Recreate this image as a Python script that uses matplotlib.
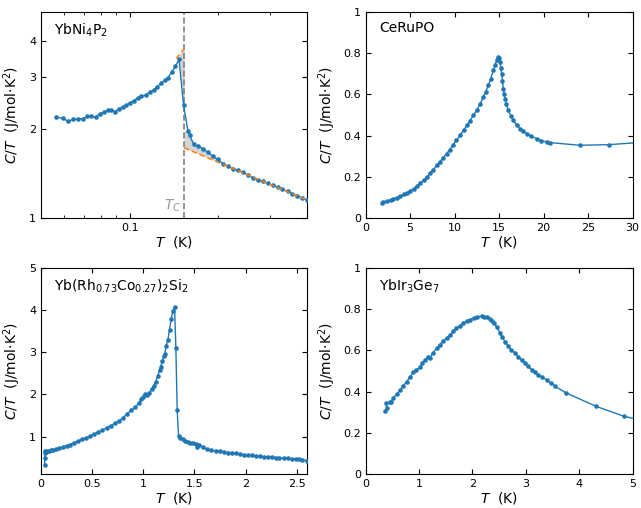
import numpy as np
import matplotlib
matplotlib.use("Agg")
import matplotlib.pyplot as plt
from matplotlib.ticker import FixedLocator, FormatStrFormatter, NullFormatter, NullLocator

# ---------------- data ----------------
# YbNi4P2 (log-log)
ybni_T = [0.0561, 0.0592, 0.0618, 0.0643, 0.0668, 0.0692, 0.0719, 0.0741, 0.0767, 0.0791,
          0.0816, 0.0844, 0.0867, 0.0889, 0.0920, 0.0950, 0.0974, 0.1005, 0.1034, 0.1067,
          0.1095, 0.1133, 0.1169, 0.1206, 0.1237, 0.1274, 0.1314, 0.1348, 0.1390, 0.1430,
          0.1470, 0.1524, 0.1576, 0.1596, 0.1649, 0.1703, 0.1772, 0.1840, 0.1917, 0.1990,
          0.2070, 0.2150, 0.2240, 0.2330, 0.2420, 0.2520, 0.2620, 0.2720, 0.2830, 0.2940,
          0.3060, 0.3180, 0.3300, 0.3440, 0.3570, 0.3710, 0.3860, 0.4000]
ybni_C = [2.20, 2.18, 2.13, 2.16, 2.17, 2.17, 2.21, 2.21, 2.20, 2.26,
          2.28, 2.33, 2.33, 2.29, 2.35, 2.38, 2.41, 2.46, 2.50, 2.56,
          2.59, 2.61, 2.67, 2.72, 2.78, 2.86, 2.93, 2.99, 3.13, 3.27,
          3.45, 2.41, 1.98, 1.91, 1.78, 1.75, 1.72, 1.67, 1.62, 1.58,
          1.53, 1.50, 1.47, 1.45, 1.43, 1.40, 1.37, 1.35, 1.33, 1.31,
          1.29, 1.27, 1.25, 1.23, 1.21, 1.19, 1.17, 1.15]
ybni_Tc = 0.153
fit_low_T = [0.1438, 0.153]
fit_low_C = [3.47, 3.75]
fit_high_T = [0.153, 0.40]
fit_high_C = [1.73, 1.15]

# CeRuPO
ce_T = [1.8, 2.0, 2.4, 2.8, 3.1, 3.5, 3.9, 4.25, 4.6, 5.0, 5.4, 5.75, 6.1, 6.5, 6.87, 7.2, 7.6,
        8.0, 8.35, 8.7, 9.1, 9.45, 9.8, 10.2, 10.6, 11.0, 11.36, 11.7, 12.1, 12.48, 12.85,
        13.22, 13.5, 13.79, 14.05, 14.35, 14.55, 14.72, 14.87, 14.98, 15.09, 15.18, 15.28,
        15.37, 15.47, 15.56, 15.65, 15.8, 16.03, 16.3, 16.59, 16.95, 17.34, 17.7, 18.08,
        18.6, 19.2, 19.75, 20.33, 20.7, 24.07, 27.36, 30.6]
ce_C = [0.074, 0.077, 0.082, 0.087, 0.093, 0.099, 0.105, 0.114, 0.122, 0.131, 0.143, 0.155,
        0.168, 0.183, 0.200, 0.216, 0.235, 0.256, 0.273, 0.292, 0.313, 0.332, 0.354, 0.377,
        0.401, 0.426, 0.450, 0.472, 0.498, 0.523, 0.554, 0.587, 0.614, 0.644, 0.677, 0.716,
        0.745, 0.765, 0.781, 0.775, 0.756, 0.730, 0.700, 0.665, 0.627, 0.600, 0.579, 0.553,
        0.523, 0.497, 0.474, 0.452, 0.434, 0.421, 0.410, 0.397, 0.385, 0.376, 0.369, 0.366,
        0.353, 0.356, 0.366]

# Yb(Rh0.73Co0.27)2Si2
yrc_T = [0.035, 0.038, 0.040, 0.042, 0.05, 0.06, 0.08, 0.10, 0.12, 0.15, 0.18, 0.21, 0.25,
         0.28, 0.32, 0.36, 0.40, 0.44, 0.48, 0.52, 0.56, 0.60, 0.64, 0.68, 0.72, 0.76, 0.80,
         0.84, 0.88, 0.92, 0.96, 0.98, 1.00, 1.02, 1.04, 1.06, 1.08, 1.10, 1.12, 1.14, 1.16,
         1.17, 1.185, 1.20, 1.21, 1.224, 1.24, 1.256, 1.273, 1.289, 1.305, 1.318, 1.331,
         1.344, 1.36, 1.386, 1.41, 1.435, 1.46, 1.483, 1.51, 1.525, 1.54, 1.58, 1.62, 1.66,
         1.71, 1.75, 1.79, 1.83, 1.87, 1.91, 1.94, 1.98, 2.02, 2.06, 2.10, 2.14, 2.18, 2.22,
         2.26, 2.30, 2.33, 2.37, 2.41, 2.45, 2.49, 2.52, 2.55, 2.60]
yrc_C = [0.33, 0.50, 0.62, 0.66, 0.64, 0.65, 0.66, 0.67, 0.68, 0.70, 0.72, 0.74, 0.78,
         0.81, 0.85, 0.89, 0.93, 0.97, 1.01, 1.06, 1.10, 1.15, 1.21, 1.26, 1.31, 1.37, 1.44,
         1.54, 1.62, 1.70, 1.80, 1.90, 1.95, 2.01, 1.99, 2.03, 2.13, 2.20, 2.29, 2.43, 2.58,
         2.66, 2.79, 2.90, 2.97, 3.16, 3.30, 3.54, 3.80, 3.98, 4.08, 3.10, 1.62,
         1.02, 0.97, 0.94, 0.90, 0.87, 0.85, 0.84, 0.82, 0.76, 0.80, 0.74, 0.70, 0.68,
         0.66, 0.65, 0.63, 0.62, 0.60, 0.60, 0.59, 0.56, 0.55, 0.55, 0.54, 0.53, 0.52, 0.52,
         0.51, 0.50, 0.49, 0.49, 0.48, 0.47, 0.46, 0.46, 0.45, 0.43]

# YbIr3Ge7
yig_T = [0.362, 0.393, 0.381, 0.456, 0.48, 0.518, 0.58, 0.643, 0.70, 0.768, 0.83, 0.893,
         0.95, 1.017, 1.06, 1.11, 1.173, 1.20, 1.26, 1.33, 1.39, 1.45, 1.52, 1.58, 1.64, 1.70,
         1.77, 1.83, 1.89, 1.95, 2.02, 2.08, 2.17, 2.22, 2.27, 2.32, 2.36, 2.41, 2.45, 2.52,
         2.56, 2.61, 2.67, 2.73, 2.80, 2.86, 2.92, 2.98, 3.04, 3.11, 3.17, 3.23, 3.31, 3.39,
         3.47, 3.55, 3.76, 4.31, 4.84, 5.38]
yig_C = [0.304, 0.320, 0.345, 0.348, 0.352, 0.369, 0.388, 0.406, 0.427, 0.449, 0.471, 0.493,
         0.505, 0.519, 0.538, 0.554, 0.570, 0.562, 0.588, 0.610, 0.628, 0.646, 0.661, 0.675,
         0.692, 0.707, 0.720, 0.731, 0.741, 0.750, 0.757, 0.763, 0.766, 0.764, 0.760, 0.753,
         0.744, 0.731, 0.715, 0.683, 0.663, 0.642, 0.622, 0.602, 0.586, 0.570, 0.554, 0.538,
         0.522, 0.506, 0.494, 0.482, 0.469, 0.457, 0.441, 0.425, 0.393, 0.329, 0.280, 0.249]

# ---------------- figure ----------------
plt.rcParams['font.family'] = ['DejaVu Sans']
blue = '#1f77b4'
orange = '#ff7f0e'
fig = plt.figure(figsize=(6.41, 5.08), dpi=100)

pos = {
    'tl': [0.0640, 0.5709, 0.4150, 0.4055],
    'tr': [0.5705, 0.5709, 0.4165, 0.4055],
    'bl': [0.0640, 0.0669, 0.4150, 0.4055],
    'br': [0.5705, 0.0669, 0.4165, 0.4055],
}
ylabel = '$C/T$  (J/mol\u00b7K$^2$)'
xlabel = '$T$  (K)'


def style(ax):
    ax.tick_params(which='both', direction='in', top=True, right=True, labelsize=8)
    ax.tick_params(which='major', length=3.5)
    ax.tick_params(which='minor', length=2.5)
    ax.set_xlabel(xlabel, fontsize=10, labelpad=1)
    ax.set_ylabel(ylabel, fontsize=10, labelpad=4)


def plot_data(ax, T, C):
    ax.plot(T, C, '-o', color=blue, lw=1.0, ms=3.3, mew=0, zorder=3)


# top-left: YbNi4P2
ax = fig.add_axes(pos['tl'])
ax.set_xscale('log')
ax.set_yscale('log')
T = np.array(ybni_T)
C = np.array(ybni_C)
# shaded entropy-balance regions
xl = np.linspace(T[np.argmax(C)], ybni_Tc, 30)
yfit_l = np.exp(np.interp(np.log(xl), np.log(fit_low_T), np.log(fit_low_C)))
ydat_l = np.interp(xl, T, C)
ax.fill_between(xl, ydat_l, yfit_l, color='#d3d3d3', lw=0, zorder=1)
xr = np.linspace(ybni_Tc, 0.2, 60)
yfit_r = np.exp(np.interp(np.log(xr), np.log(fit_high_T), np.log(fit_high_C)))
ydat_r = np.interp(xr, T[32:], C[32:])
ax.fill_between(xr, ydat_r, yfit_r, where=ydat_r >= yfit_r, color='#d3d3d3', lw=0, zorder=1)
ax.axvline(ybni_Tc, color='#808080', ls='--', lw=1.2, zorder=2)
plot_data(ax, T, C)
ax.plot(fit_low_T, fit_low_C, '--', color=orange, lw=1.1, dashes=(3.5, 2), zorder=4)
ax.plot(fit_high_T, fit_high_C, '--', color=orange, lw=1.1, dashes=(3.5, 2), zorder=4)
ax.set_xlim(0.05, 0.4)
ax.set_ylim(1, 5)
ax.xaxis.set_major_locator(FixedLocator([0.1]))
ax.xaxis.set_major_formatter(FormatStrFormatter('%g'))
ax.xaxis.set_minor_locator(FixedLocator([0.06, 0.07, 0.08, 0.09, 0.2, 0.3]))
ax.xaxis.set_minor_formatter(NullFormatter())
ax.yaxis.set_major_locator(FixedLocator([1, 2, 3, 4]))
ax.yaxis.set_major_formatter(FormatStrFormatter('%g'))
ax.yaxis.set_minor_locator(NullLocator())
ax.text(ybni_Tc * 0.975, 1.035, '$T_C$', color='#999999', fontsize=10, ha='right', va='bottom')
ax.text(0.05, 0.955, 'YbNi$_4$P$_2$', transform=ax.transAxes, fontsize=10, va='top', ha='left')
style(ax)

# top-right: CeRuPO
ax = fig.add_axes(pos['tr'])
plot_data(ax, ce_T, ce_C)
ax.set_xlim(0, 30)
ax.set_ylim(0, 1)
ax.set_yticks([0, 0.2, 0.4, 0.6, 0.8, 1])
ax.xaxis.set_major_formatter(FormatStrFormatter('%g'))
ax.yaxis.set_major_formatter(FormatStrFormatter('%g'))
ax.text(0.05, 0.955, 'CeRuPO', transform=ax.transAxes, fontsize=10, va='top', ha='left')
style(ax)

# bottom-left: Yb(Rh0.73Co0.27)2Si2
ax = fig.add_axes(pos['bl'])
plot_data(ax, yrc_T, yrc_C)
ax.set_xlim(0, 2.6)
ax.set_ylim(0.11, 5)
ax.set_xticks([0, 0.5, 1, 1.5, 2, 2.5])
ax.set_yticks([1, 2, 3, 4, 5])
ax.xaxis.set_major_formatter(FormatStrFormatter('%g'))
ax.yaxis.set_major_formatter(FormatStrFormatter('%g'))
ax.text(0.05, 0.955, 'Yb(Rh$_{0.73}$Co$_{0.27}$)$_2$Si$_2$', transform=ax.transAxes,
        fontsize=10, va='top', ha='left')
style(ax)

# bottom-right: YbIr3Ge7
ax = fig.add_axes(pos['br'])
plot_data(ax, yig_T, yig_C)
ax.set_xlim(0, 5)
ax.set_ylim(0, 1)
ax.set_yticks([0, 0.2, 0.4, 0.6, 0.8, 1])
ax.xaxis.set_major_formatter(FormatStrFormatter('%g'))
ax.yaxis.set_major_formatter(FormatStrFormatter('%g'))
ax.text(0.05, 0.955, 'YbIr$_3$Ge$_7$', transform=ax.transAxes, fontsize=10, va='top', ha='left')
style(ax)

fig.savefig('out.png', dpi=100)
